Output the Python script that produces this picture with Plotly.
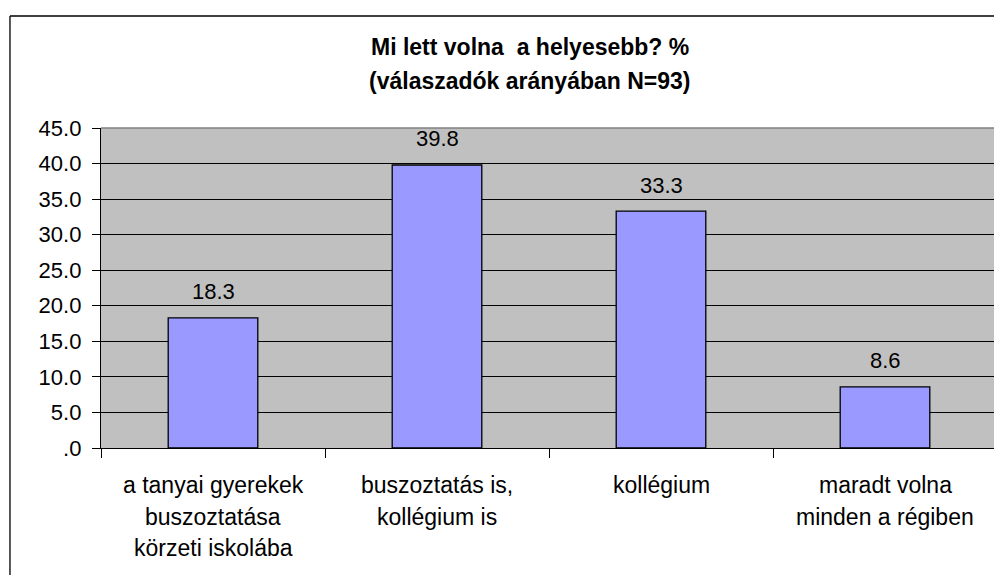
import plotly.graph_objects as go

categories = [
    ["a tanyai gyerekek", "buszoztatása", "körzeti iskolába"],
    ["buszoztatás is,", "kollégium is"],
    ["kollégium"],
    ["maradt volna", "minden a régiben"],
]
values = [18.3, 39.8, 33.3, 8.6]
y_ticks = [0, 5, 10, 15, 20, 25, 30, 35, 40, 45]
y_tick_labels = [".0", "5.0", "10.0", "15.0", "20.0", "25.0", "30.0", "35.0", "40.0", "45.0"]
title_lines = ["Mi lett volna  a helyesebb? %", "(válaszadók arányában N=93)"]

FONT = "Liberation Sans, Arial, sans-serif"
xpos = list(range(len(values)))

fig = go.Figure()
fig.add_trace(go.Bar(
    x=xpos, y=values, width=0.4,
    marker=dict(color="#9999FF", line=dict(color="black", width=1.3)),
    hoverinfo="skip",
))

annotations = []
for i, v in enumerate(values):
    annotations.append(dict(
        x=i, y=v, xref="x", yref="y", text=f"{v:.1f}", showarrow=False,
        yanchor="middle", yshift=26, font=dict(family=FONT, size=22, color="black"),
    ))
for i, lines in enumerate(categories):
    for k, line in enumerate(lines):
        annotations.append(dict(
            x=i, y=0, xref="x", yref="paper", text=line, showarrow=False,
            yanchor="middle", yshift=-37 - 31.5 * k,
            font=dict(family=FONT, size=23, color="black"),
        ))
annotations.append(dict(
    x=0.479, y=1.253, xref="paper", yref="paper", text=f"<b>{title_lines[0]}</b>",
    showarrow=False, yanchor="middle", font=dict(family=FONT, size=23, color="black"),
))
annotations.append(dict(
    x=0.479, y=1.147, xref="paper", yref="paper", text=f"<b>{title_lines[1]}</b>",
    showarrow=False, yanchor="middle", font=dict(family=FONT, size=23, color="black"),
))

shapes = [
    # plot area top and right border (gray)
    dict(type="line", xref="paper", yref="paper", x0=0, x1=1, y0=1, y1=1,
         line=dict(color="#808080", width=1.5)),
    dict(type="line", xref="paper", yref="paper", x0=1, x1=1, y0=0, y1=1,
         line=dict(color="#808080", width=1.5)),
    # outer chart frame
    dict(type="line", xref="paper", yref="paper", x0=-0.1016, x1=1.02, y0=1.35, y1=1.35,
         line=dict(color="#404040", width=2)),
    dict(type="line", xref="paper", yref="paper", x0=-0.1016, x1=-0.1016, y0=-0.5, y1=1.35,
         line=dict(color="#202020", width=1.5)),
]

fig.update_layout(
    width=994, height=567, autosize=False,
    margin=dict(l=93, r=5, t=120, b=127),
    paper_bgcolor="white", plot_bgcolor="#C0C0C0",
    showlegend=False,
    annotations=annotations, shapes=shapes,
    font=dict(family=FONT, color="black"),
)
fig.update_xaxes(
    range=[-0.5, 3.5], tickvals=[-0.5, 0.5, 1.5, 2.5, 3.5],
    ticks="outside", ticklen=9, tickcolor="black", tickwidth=1,
    showticklabels=False, showline=True, linecolor="black", linewidth=1.3,
    showgrid=False, zeroline=False, fixedrange=True,
)
fig.update_yaxes(
    range=[0, 45], tickvals=y_ticks, ticktext=y_tick_labels,
    ticks="outside", ticklen=8, tickcolor="black", tickwidth=1,
    tickfont=dict(family=FONT, size=22, color="black"),
    ticklabelstandoff=6,
    showline=True, linecolor="black", linewidth=1.3,
    showgrid=True, gridcolor="black", gridwidth=1,
    zeroline=False, fixedrange=True,
)

fig.write_html("out.html")
